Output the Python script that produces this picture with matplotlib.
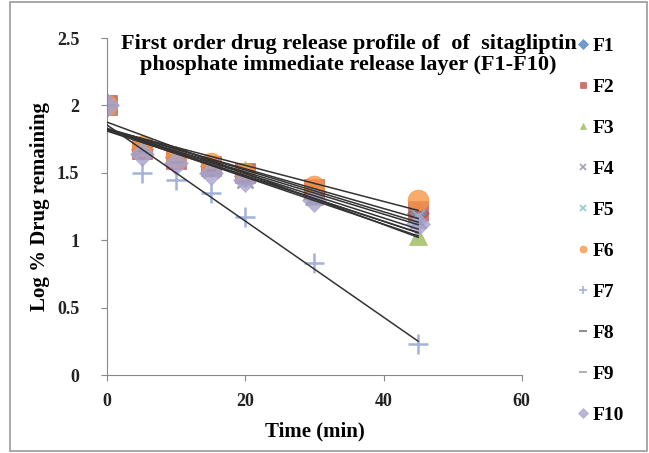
import numpy as np
import matplotlib
matplotlib.use("Agg")
import matplotlib.pyplot as plt
from matplotlib.patches import Rectangle

# Time points (min) and log % drug remaining for each formulation
time = [0, 5, 10, 15, 20, 30, 45]
F1 = [2.0, 1.68, 1.62, 1.55, 1.48, 1.35, 1.20]
F2 = [2.0, 1.68, 1.60, 1.55, 1.50, 1.38, 1.22]
F3 = [2.0, 1.70, 1.62, 1.56, 1.52, 1.33, 1.03]
F4 = [2.0, 1.67, 1.60, 1.52, 1.45, 1.32, 1.15]
F5 = [2.0, 1.66, 1.60, 1.53, 1.47, 1.34, 1.18]
F6 = [2.0, 1.70, 1.62, 1.57, 1.50, 1.40, 1.30]
F7 = [2.0, 1.50, 1.45, 1.35, 1.17, 0.83, 0.23]
F8 = [2.0, 1.66, 1.58, 1.52, 1.44, 1.30, 1.12]
F9 = [2.0, 1.65, 1.58, 1.50, 1.43, 1.28, 1.10]
F10 = [2.0, 1.64, 1.57, 1.50, 1.45, 1.30, 1.12]

names = ["F1", "F2", "F3", "F4", "F5", "F6", "F7", "F8", "F9", "F10"]
series = [F1, F2, F3, F4, F5, F6, F7, F8, F9, F10]

# marker, colour, size
styles = [
    ("D", "#4F81BD", 11),
    ("s", "#C0504D", 15),
    ("^", "#9BBB59", 13),
    ("x", "#8A8A9A", 11),
    ("x", "#7FB8D0", 10),
    ("o", "#F79646", 15),
    ("+", "#8E9FD2", 15),
    ("_", "#555555", 7),
    ("_", "#8A8A9A", 11),
    ("D", "#A9A3CF", 12),
]

plt.rcParams["font.family"] = ["Liberation Serif", "DejaVu Serif"]
plt.rcParams["font.weight"] = "bold"

fig = plt.figure(figsize=(6.49, 4.53), dpi=100)
ax = fig.add_axes([0.165, 0.172, 0.639, 0.744])

t = np.array(time)
for name, ys, (mk, col, ms) in zip(names, series, styles):
    ax.plot(time, ys, linestyle="none", marker=mk, color=col, markersize=ms,
            markeredgewidth=1.8 if mk in "x+_" else 0.5, alpha=0.8, label=name)

# linear trendlines (as in the spreadsheet)
for ys in series:
    k, b = np.polyfit(t, np.array(ys), 1)
    xx = np.array([0, 45])
    ax.plot(xx, k * xx + b, color="#333333", lw=1.1, zorder=3)

ax.set_xlim(0, 60)
ax.set_ylim(0, 2.5)
ax.set_xticks([0, 20, 40, 60])
ax.set_yticks([0, 0.5, 1, 1.5, 2, 2.5])
ax.set_yticklabels(["0", "0.5", "1", "1.5", "2", "2.5"])
for s in ["top", "right"]:
    ax.spines[s].set_visible(False)
for s in ["left", "bottom"]:
    ax.spines[s].set_color("#888888")
ax.tick_params(colors="#888888", labelcolor="#222222", labelsize=13, direction="out", length=4)
ax.tick_params(axis="y", pad=16)
ax.tick_params(axis="x", pad=9)
for lab in ax.get_xticklabels() + ax.get_yticklabels():
    lab.set_fontweight("bold")

ax.set_xlabel("Time (min)", fontsize=15, fontweight="bold", labelpad=8)
ax.set_ylabel("Log % Drug remaining", fontsize=15, fontweight="bold")
ax.yaxis.set_label_coords(-0.138, 0.5)

fig.text(0.537, 0.925, "First order drug release profile of  of  sitagliptin\n"
         "phosphate immediate release layer (F1-F10)",
         ha="center", va="top", fontsize=16, fontweight="bold", linespacing=1.05)

leg = ax.legend(loc="upper left", bbox_to_anchor=(1.115, 1.025), frameon=False,
                fontsize=14, labelspacing=1.2, handlelength=0.6, handletextpad=0.2,
                borderaxespad=0.0)
for txt in leg.get_texts():
    txt.set_fontweight("bold")
for h, (mk, col, ms) in zip(leg.legend_handles, styles):
    h.set_markersize(5 if mk not in "+_" else 6)
    h.set_markeredgewidth(1.2 if mk in "x+_" else 0.5)

fig.patches.append(Rectangle((10 / 649, 0.004), 1 - 12 / 649, 0.992, transform=fig.transFigure,
                             fill=False, edgecolor="#999999", lw=1.2))

fig.savefig("out.png", dpi=100)
